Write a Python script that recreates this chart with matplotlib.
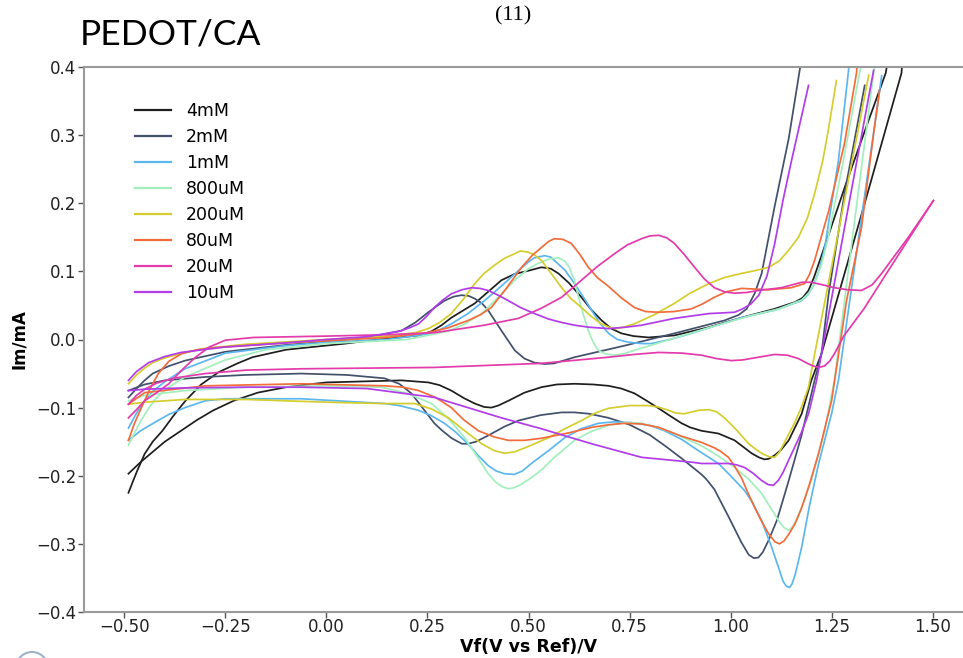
import matplotlib
matplotlib.use("Agg")
import matplotlib.pyplot as plt
from matplotlib.patches import Circle

# ---- cyclic voltammograms (potential V, current mA) ----
# each concentration: anodic sweep (fwd) and cathodic return sweep (rev)
labels = ["4mM", "2mM", "1mM", "800uM", "200uM", "80uM", "20uM", "10uM"]
colors = ["#1e1e1e", "#42506c", "#5cb7ee", "#a2efbd", "#d5cd2e", "#f26c3c", "#e33bab", "#b23de8"]

fwd_4mM = [(-0.49, -0.225), (-0.47, -0.195), (-0.45, -0.168), (-0.43, -0.150), (-0.406, -0.134),
           (-0.38, -0.113), (-0.349, -0.090), (-0.31, -0.066), (-0.267, -0.048), (-0.22, -0.035),
           (-0.183, -0.026), (-0.10, -0.015), (0.047, -0.006), (0.10, -0.002), (0.228, 0.006),
           (0.26, 0.012), (0.285, 0.021), (0.309, 0.032), (0.367, 0.053), (0.40, 0.070),
           (0.433, 0.087), (0.465, 0.096), (0.50, 0.101), (0.532, 0.106), (0.555, 0.104),
           (0.574, 0.097), (0.60, 0.083), (0.631, 0.062), (0.655, 0.044), (0.681, 0.028),
           (0.705, 0.016), (0.73, 0.009), (0.76, 0.005), (0.797, 0.003), (0.861, 0.006),
           (0.946, 0.018), (1.027, 0.032), (1.109, 0.045), (1.16, 0.055), (1.178, 0.061),
           (1.193, 0.072), (1.207, 0.092), (1.225, 0.123), (1.287, 0.231), (1.337, 0.314),
           (1.384, 0.391), (1.395, 0.43)]
rev_4mM = [(1.428, 0.43), (1.423, 0.391), (1.334, 0.204), (1.225, -0.021), (1.20, -0.060),
           (1.176, -0.109), (1.144, -0.148), (1.125, -0.162), (1.109, -0.170), (1.095, -0.175),
           (1.084, -0.176), (1.07, -0.173), (1.052, -0.167), (1.03, -0.157), (1.01, -0.148),
           (0.97, -0.138), (0.928, -0.134), (0.90, -0.129), (0.879, -0.123), (0.85, -0.112),
           (0.822, -0.101), (0.79, -0.089), (0.762, -0.079), (0.73, -0.072), (0.698, -0.068),
           (0.66, -0.066), (0.614, -0.065), (0.57, -0.066), (0.532, -0.070), (0.49, -0.078),
           (0.45, -0.090), (0.425, -0.097), (0.408, -0.100), (0.39, -0.099), (0.367, -0.094),
           (0.34, -0.086), (0.309, -0.075), (0.28, -0.067), (0.252, -0.063), (0.186, -0.060),
           (0.0, -0.063), (-0.03, -0.065), (-0.10, -0.070), (-0.17, -0.078), (-0.23, -0.090),
           (-0.28, -0.104), (-0.32, -0.118), (-0.36, -0.134), (-0.40, -0.150), (-0.43, -0.165),
           (-0.46, -0.180), (-0.49, -0.197)]

fwd_2mM = [(-0.49, -0.085), (-0.47, -0.072), (-0.45, -0.060), (-0.43, -0.050), (-0.39, -0.039),
           (-0.35, -0.031), (-0.25, -0.018), (-0.10, -0.008), (0.0, -0.003), (0.10, 0.003),
           (0.186, 0.013), (0.22, 0.025), (0.252, 0.040), (0.292, 0.057), (0.315, 0.063),
           (0.334, 0.065), (0.352, 0.064), (0.367, 0.060), (0.385, 0.053), (0.40, 0.043),
           (0.433, 0.013), (0.466, -0.016), (0.49, -0.028), (0.515, -0.034), (0.54, -0.036),
           (0.564, -0.035), (0.614, -0.026), (0.738, -0.009), (0.861, 0.009), (0.985, 0.028),
           (1.02, 0.036), (1.04, 0.045), (1.06, 0.068), (1.077, 0.097), (1.109, 0.195),
           (1.144, 0.295), (1.171, 0.395), (1.18, 0.43)]
rev_2mM = [(1.332, 0.373), (1.282, 0.214), (1.243, 0.068), (1.225, -0.021), (1.208, -0.060),
           (1.19, -0.105), (1.176, -0.140), (1.144, -0.207), (1.115, -0.265), (1.094, -0.295),
           (1.08, -0.312), (1.069, -0.320), (1.058, -0.321), (1.045, -0.316), (1.027, -0.298),
           (0.995, -0.260), (0.96, -0.220), (0.94, -0.205), (0.928, -0.198), (0.88, -0.175),
           (0.84, -0.157), (0.80, -0.140), (0.75, -0.125), (0.698, -0.115), (0.65, -0.109),
           (0.614, -0.107), (0.582, -0.107), (0.53, -0.111), (0.475, -0.119), (0.44, -0.128),
           (0.40, -0.141), (0.37, -0.150), (0.351, -0.153), (0.335, -0.153), (0.31, -0.145),
           (0.285, -0.133), (0.267, -0.123), (0.24, -0.102), (0.21, -0.079), (0.18, -0.065),
           (0.144, -0.057), (0.05, -0.052), (-0.062, -0.050), (-0.20, -0.052), (-0.30, -0.055),
           (-0.40, -0.060), (-0.45, -0.066), (-0.49, -0.075)]

fwd_1mM = [(-0.49, -0.130), (-0.47, -0.108), (-0.45, -0.090), (-0.43, -0.076), (-0.40, -0.062),
           (-0.35, -0.043), (-0.25, -0.020), (-0.10, -0.009), (0.0, -0.004), (0.15, 0.0),
           (0.25, 0.008), (0.28, 0.014), (0.309, 0.023), (0.35, 0.038), (0.391, 0.057),
           (0.43, 0.077), (0.475, 0.101), (0.50, 0.114), (0.515, 0.120), (0.54, 0.123),
           (0.555, 0.121), (0.564, 0.116), (0.59, 0.102), (0.614, 0.082), (0.636, 0.062),
           (0.656, 0.043), (0.677, 0.024), (0.698, 0.009), (0.72, 0.0), (0.748, -0.004),
           (0.78, -0.006), (0.804, -0.006), (0.85, 0.0), (0.903, 0.009), (1.027, 0.032),
           (1.109, 0.043), (1.176, 0.057), (1.192, 0.066), (1.205, 0.079), (1.22, 0.103),
           (1.233, 0.135), (1.267, 0.263), (1.292, 0.395), (1.295, 0.43)]
rev_1mM = [(1.374, 0.387), (1.322, 0.170), (1.267, -0.060), (1.25, -0.109), (1.218, -0.182),
           (1.195, -0.245), (1.176, -0.305), (1.16, -0.345), (1.152, -0.359), (1.146, -0.364),
           (1.138, -0.362), (1.13, -0.355), (1.119, -0.335), (1.10, -0.302), (1.077, -0.266),
           (1.055, -0.240), (1.035, -0.222), (1.0, -0.200), (0.97, -0.182), (0.92, -0.163),
           (0.88, -0.147), (0.837, -0.134), (0.80, -0.126), (0.755, -0.122), (0.71, -0.121),
           (0.673, -0.123), (0.63, -0.131), (0.59, -0.144), (0.55, -0.163), (0.507, -0.182),
           (0.485, -0.193), (0.465, -0.198), (0.44, -0.197), (0.42, -0.193), (0.40, -0.185),
           (0.375, -0.170), (0.35, -0.153), (0.32, -0.136), (0.292, -0.123), (0.26, -0.112),
           (0.228, -0.104), (0.18, -0.097), (0.144, -0.094), (-0.062, -0.087), (-0.25, -0.087),
           (-0.30, -0.090), (-0.35, -0.100), (-0.39, -0.110), (-0.42, -0.120), (-0.46, -0.134),
           (-0.49, -0.148)]

fwd_800uM = [(-0.49, -0.155), (-0.475, -0.137), (-0.46, -0.120), (-0.44, -0.101), (-0.42, -0.085),
             (-0.39, -0.070), (-0.35, -0.055), (-0.25, -0.030), (-0.15, -0.015), (0.0, -0.006),
             (0.20, 0.0), (0.30, 0.012), (0.34, 0.022), (0.384, 0.038), (0.425, 0.062),
             (0.466, 0.087), (0.50, 0.104), (0.525, 0.112), (0.55, 0.118), (0.574, 0.120),
             (0.59, 0.115), (0.601, 0.106), (0.613, 0.088), (0.624, 0.062), (0.636, 0.036),
             (0.648, 0.013), (0.66, -0.004), (0.673, -0.016), (0.69, -0.021), (0.713, -0.023),
             (0.735, -0.021), (0.762, -0.016), (0.85, 0.0), (0.95, 0.018), (1.05, 0.035),
             (1.12, 0.045), (1.176, 0.058), (1.195, 0.069), (1.21, 0.085), (1.225, 0.110),
             (1.24, 0.145), (1.28, 0.265), (1.322, 0.40), (1.325, 0.43)]
rev_800uM = [(1.356, 0.40), (1.304, 0.160), (1.257, -0.060), (1.233, -0.134), (1.20, -0.207),
             (1.18, -0.240), (1.165, -0.262), (1.155, -0.274), (1.144, -0.280), (1.132, -0.276),
             (1.119, -0.266), (1.10, -0.248), (1.077, -0.226), (1.045, -0.205), (1.01, -0.188),
             (0.97, -0.171), (0.928, -0.156), (0.861, -0.138), (0.82, -0.129), (0.78, -0.123),
             (0.74, -0.122), (0.698, -0.126), (0.655, -0.135), (0.614, -0.148), (0.564, -0.173),
             (0.535, -0.190), (0.507, -0.203), (0.478, -0.214), (0.462, -0.218), (0.45, -0.219),
             (0.435, -0.216), (0.42, -0.210), (0.40, -0.197), (0.384, -0.182), (0.362, -0.162),
             (0.342, -0.144), (0.30, -0.115), (0.26, -0.094), (0.20, -0.079), (0.136, -0.070),
             (0.0, -0.068), (-0.20, -0.070), (-0.35, -0.075), (-0.45, -0.082), (-0.49, -0.090)]

fwd_200uM = [(-0.49, -0.065), (-0.47, -0.052), (-0.45, -0.042), (-0.43, -0.034), (-0.40, -0.027),
             (-0.35, -0.019), (-0.30, -0.013), (-0.20, -0.007), (0.0, 0.0), (0.15, 0.005),
             (0.22, 0.010), (0.252, 0.016), (0.28, 0.025), (0.309, 0.038), (0.34, 0.060),
             (0.367, 0.082), (0.39, 0.097), (0.416, 0.109), (0.44, 0.119), (0.466, 0.126),
             (0.48, 0.130), (0.50, 0.128), (0.515, 0.124), (0.532, 0.116), (0.555, 0.098),
             (0.582, 0.076), (0.605, 0.060), (0.631, 0.047), (0.655, 0.034), (0.68, 0.023),
             (0.70, 0.018), (0.713, 0.016), (0.735, 0.018), (0.762, 0.023), (0.81, 0.036),
             (0.861, 0.053), (0.90, 0.068), (0.946, 0.082), (0.985, 0.091), (1.027, 0.097),
             (1.06, 0.101), (1.094, 0.106), (1.12, 0.115), (1.144, 0.131), (1.168, 0.150),
             (1.19, 0.178), (1.208, 0.214), (1.228, 0.262), (1.243, 0.311), (1.262, 0.380)]
rev_200uM = [(1.342, 0.388), (1.205, -0.031), (1.193, -0.070), (1.175, -0.100), (1.158, -0.123),
             (1.13, -0.155), (1.12, -0.166), (1.109, -0.173), (1.095, -0.172), (1.08, -0.168),
             (1.062, -0.161), (1.045, -0.153), (1.015, -0.133), (0.985, -0.115), (0.965, -0.106),
             (0.946, -0.103), (0.92, -0.104), (0.886, -0.109), (0.865, -0.108), (0.847, -0.104),
             (0.82, -0.099), (0.797, -0.097), (0.75, -0.097), (0.698, -0.101), (0.665, -0.108),
             (0.631, -0.119), (0.59, -0.131), (0.55, -0.144), (0.50, -0.157), (0.465, -0.165),
             (0.44, -0.167), (0.415, -0.163), (0.384, -0.153), (0.34, -0.133), (0.302, -0.115),
             (0.26, -0.102), (0.218, -0.094), (0.136, -0.094), (0.0, -0.092), (-0.20, -0.088),
             (-0.35, -0.088), (-0.45, -0.092), (-0.49, -0.095)]

fwd_80uM = [(-0.49, -0.148), (-0.475, -0.123), (-0.458, -0.100), (-0.437, -0.073), (-0.416, -0.050),
            (-0.39, -0.032), (-0.359, -0.021), (-0.32, -0.015), (-0.277, -0.012), (-0.10, -0.005),
            (0.0, -0.002), (0.15, 0.003), (0.25, 0.010), (0.30, 0.017), (0.351, 0.028),
            (0.38, 0.036), (0.408, 0.047), (0.445, 0.075), (0.483, 0.106), (0.51, 0.124),
            (0.532, 0.135), (0.55, 0.144), (0.564, 0.148), (0.585, 0.147), (0.606, 0.141),
            (0.627, 0.125), (0.648, 0.106), (0.67, 0.091), (0.698, 0.078), (0.73, 0.061),
            (0.762, 0.047), (0.79, 0.041), (0.822, 0.040), (0.86, 0.041), (0.903, 0.045),
            (0.93, 0.052), (0.96, 0.062), (0.99, 0.070), (1.027, 0.075), (1.06, 0.074),
            (1.094, 0.073), (1.15, 0.076), (1.183, 0.082), (1.195, 0.095), (1.208, 0.116),
            (1.243, 0.189), (1.282, 0.288), (1.312, 0.392), (1.315, 0.43)]
rev_80uM = [(1.369, 0.366), (1.356, 0.311), (1.324, 0.164), (1.287, 0.057), (1.265, -0.031),
            (1.25, -0.090), (1.218, -0.167), (1.195, -0.213), (1.176, -0.247), (1.16, -0.270),
            (1.145, -0.285), (1.132, -0.296), (1.121, -0.300), (1.11, -0.297), (1.094, -0.285),
            (1.077, -0.267), (1.06, -0.247), (1.043, -0.225), (1.027, -0.203), (1.01, -0.186),
            (0.995, -0.173), (0.975, -0.164), (0.96, -0.159), (0.928, -0.151), (0.879, -0.142),
            (0.822, -0.129), (0.78, -0.124), (0.738, -0.123), (0.70, -0.125), (0.656, -0.129),
            (0.60, -0.137), (0.532, -0.145), (0.49, -0.148), (0.45, -0.148), (0.415, -0.143),
            (0.376, -0.134), (0.34, -0.118), (0.309, -0.100), (0.27, -0.085), (0.228, -0.075),
            (0.19, -0.070), (0.144, -0.068), (-0.062, -0.065), (-0.30, -0.068), (-0.45, -0.078),
            (-0.49, -0.095)]

fwd_20uM = [(-0.49, -0.115), (-0.47, -0.103), (-0.45, -0.090), (-0.42, -0.078), (-0.39, -0.065),
            (-0.36, -0.046), (-0.324, -0.026), (-0.29, -0.011), (-0.25, -0.001), (-0.18, 0.003),
            (0.0, 0.005), (0.15, 0.007), (0.267, 0.010), (0.391, 0.021), (0.475, 0.031),
            (0.532, 0.046), (0.582, 0.062), (0.631, 0.087), (0.67, 0.107), (0.713, 0.126),
            (0.745, 0.139), (0.78, 0.148), (0.80, 0.152), (0.822, 0.153), (0.843, 0.149),
            (0.861, 0.141), (0.885, 0.125), (0.911, 0.106), (0.935, 0.089), (0.96, 0.076),
            (0.985, 0.070), (1.01, 0.068), (1.04, 0.069), (1.069, 0.072), (1.126, 0.076),
            (1.176, 0.084), (1.20, 0.084), (1.23, 0.080), (1.257, 0.076), (1.29, 0.073),
            (1.324, 0.072), (1.35, 0.080), (1.374, 0.097), (1.405, 0.122), (1.44, 0.150),
            (1.47, 0.176), (1.502, 0.204)]
rev_20uM = [(1.502, 0.204), (1.40, 0.110), (1.33, 0.045), (1.28, 0.005), (1.257, -0.021),
            (1.245, -0.032), (1.232, -0.039), (1.218, -0.041), (1.205, -0.039), (1.19, -0.035),
            (1.168, -0.028), (1.14, -0.023), (1.109, -0.022), (1.069, -0.026), (1.03, -0.030),
            (1.002, -0.031), (0.965, -0.028), (0.928, -0.023), (0.88, -0.020), (0.822, -0.019),
            (0.76, -0.022), (0.698, -0.026), (0.532, -0.035), (0.267, -0.041), (-0.062, -0.043),
            (-0.20, -0.045), (-0.30, -0.050), (-0.38, -0.057), (-0.42, -0.064), (-0.45, -0.073),
            (-0.47, -0.082), (-0.49, -0.095)]

fwd_10uM = [(-0.49, -0.060), (-0.47, -0.047), (-0.44, -0.034), (-0.40, -0.025), (-0.36, -0.019),
            (-0.25, -0.011), (-0.10, -0.005), (0.0, 0.0), (0.10, 0.004), (0.18, 0.012),
            (0.205, 0.017), (0.228, 0.023), (0.248, 0.034), (0.267, 0.047), (0.288, 0.058),
            (0.309, 0.067), (0.335, 0.073), (0.359, 0.076), (0.38, 0.075), (0.40, 0.072),
            (0.425, 0.065), (0.45, 0.057), (0.48, 0.047), (0.515, 0.038), (0.55, 0.030),
            (0.582, 0.025), (0.614, 0.021), (0.65, 0.018), (0.698, 0.016), (0.74, 0.018),
            (0.78, 0.021), (0.861, 0.031), (0.946, 0.038), (1.01, 0.040), (1.03, 0.045),
            (1.05, 0.052), (1.07, 0.065), (1.09, 0.093), (1.109, 0.140), (1.13, 0.205),
            (1.151, 0.263), (1.193, 0.373)]
rev_10uM = [(1.354, 0.395), (1.282, 0.164), (1.213, -0.060), (1.193, -0.109), (1.175, -0.137),
            (1.158, -0.159), (1.143, -0.178), (1.13, -0.195), (1.118, -0.207), (1.106, -0.214),
            (1.093, -0.213), (1.077, -0.207), (1.055, -0.196), (1.035, -0.188), (1.015, -0.184),
            (0.995, -0.182), (0.928, -0.182), (0.903, -0.180), (0.78, -0.173), (0.656, -0.153),
            (0.582, -0.140), (0.532, -0.131), (0.433, -0.115), (0.267, -0.085), (0.10, -0.072),
            (-0.062, -0.070), (-0.20, -0.070), (-0.35, -0.071), (-0.45, -0.073), (-0.49, -0.075)]

sweeps = [
    (fwd_4mM, rev_4mM), (fwd_2mM, rev_2mM), (fwd_1mM, rev_1mM), (fwd_800uM, rev_800uM),
    (fwd_200uM, rev_200uM), (fwd_80uM, rev_80uM), (fwd_20uM, rev_20uM), (fwd_10uM, rev_10uM),
]

xticks = [-0.50, -0.25, 0.00, 0.25, 0.50, 0.75, 1.00, 1.25, 1.50]
yticks = [-0.4, -0.3, -0.2, -0.1, 0.0, 0.1, 0.2, 0.3, 0.4]

W, H = 963, 658
fig = plt.figure(figsize=(W / 100, H / 100), dpi=100)
ax_left, ax_bottom = 84 / W, (H - 612) / H
ax_w, ax_h = 889 / W, 545 / H
ax = fig.add_axes([ax_left, ax_bottom, ax_w, ax_h])

for (fwd, rev), lab, col in zip(sweeps, labels, colors):
    ax.plot([p[0] for p in fwd], [p[1] for p in fwd], color=col, lw=1.25, label=lab,
            solid_joinstyle="round")
    ax.plot([p[0] for p in rev], [p[1] for p in rev], color=col, lw=1.25,
            solid_joinstyle="round")

ax.set_xlim(-0.6, 1.6)
ax.set_ylim(-0.4, 0.4)
ax.set_xticks(xticks)
ax.set_xticklabels([f"{t:.2f}".replace("-", "\u2212") for t in xticks])
ax.set_yticks(yticks)
ax.set_yticklabels([f"{t:.1f}".replace("-", "\u2212") for t in yticks])
ax.tick_params(axis="both", labelsize=12, length=4, width=1.0, color="#555555",
               labelcolor="#222222")
ax.tick_params(axis="x", pad=0.5)
ax.tick_params(axis="y", pad=1.5)
for side in ("left", "bottom", "top", "right"):
    ax.spines[side].set_color("#9a9a9a")
    ax.spines[side].set_linewidth(1.5)

ax.set_xlabel("Vf(V vs Ref)/V", fontsize=12.5, fontweight="bold", labelpad=1)
ax.set_ylabel("Im/mA", fontsize=12, fontweight="bold", labelpad=6)

leg = ax.legend(loc="upper left", bbox_to_anchor=(0.049, 0.949), frameon=False,
                fontsize=12.5, handlelength=2.1, handletextpad=0.85, labelspacing=0.46,
                borderaxespad=0.0)
for line in leg.get_lines():
    line.set_linewidth(1.6)

fig.text(80 / W, 1 - 45 / H, "PEDOT/CA", fontsize=25.5, family="Lato", va="baseline", ha="left")
fig.text(513 / W, 1 - 16 / H, "(11)", fontsize=16, family="Liberation Serif",
         va="center", ha="center")

fig.add_artist(Circle((0.32, -0.10), 0.16, transform=fig.dpi_scale_trans, fill=False,
                      edgecolor="#9fb2c9", lw=1.5, clip_on=False))

fig.savefig("out.png", dpi=100)
